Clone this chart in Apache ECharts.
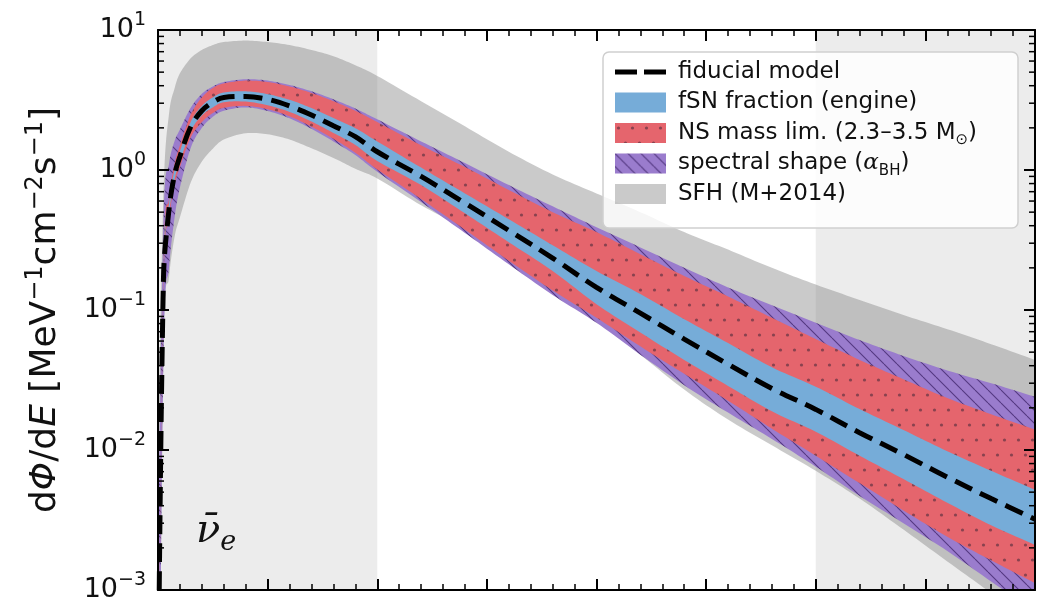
<!DOCTYPE html>
<html>
<head>
<meta charset="utf-8">
<script src="https://cdn.jsdelivr.net/npm/echarts@6/dist/echarts.min.js"></script>
<style>
  html, body { margin: 0; padding: 0; background: #ffffff; }
  #chart { width: 1037px; height: 605px; }
</style>
</head>
<body>
<div id="chart"></div>
<script>
// Neutrino energy grid (MeV)
const energy = [0, 0.25, 0.5, 0.75, 1, 1.5, 2, 2.5, 3, 4, 5, 6, 7, 8, 9, 10, 12, 14, 16, 18, 20, 22, 24, 26, 28, 30, 32, 34, 36, 38, 40];

// Fiducial DSNB flux dPhi/dE  [MeV^-1 cm^-2 s^-1]
const fiducial = [1e-4, 0.17, 0.52, 0.92, 1.25, 2.05, 2.65, 3.05, 3.3, 3.35, 3.2, 2.87, 2.47, 2.07, 1.73, 1.35, 0.9, 0.58, 0.37, 0.235, 0.145, 0.095, 0.062, 0.041, 0.0275, 0.0195, 0.0133, 0.0093, 0.0064, 0.0045, 0.0032];

// Uncertainty bands: lower / upper envelopes
const fsnLow  = [0.9e-4, 0.155, 0.48, 0.85, 1.15, 1.9, 2.45, 2.8, 3.05, 3.08, 2.9, 2.6, 2.22, 1.84, 1.51, 1.16, 0.78, 0.49, 0.305, 0.19, 0.11, 0.069, 0.044, 0.0287, 0.0189, 0.0135, 0.0091, 0.0062, 0.0042, 0.0029, 0.0021];
const fsnHigh = [1.1e-4, 0.19, 0.57, 1.0, 1.36, 2.22, 2.87, 3.3, 3.58, 3.65, 3.48, 3.17, 2.77, 2.35, 1.99, 1.6, 1.04, 0.68, 0.445, 0.29, 0.19, 0.13, 0.086, 0.058, 0.039, 0.0283, 0.0196, 0.0139, 0.0098, 0.0071, 0.0052];

const nsLow  = [0.8e-4, 0.14, 0.44, 0.78, 1.05, 1.72, 2.2, 2.55, 2.78, 2.87, 2.72, 2.42, 2.04, 1.67, 1.33, 1.01, 0.62, 0.375, 0.225, 0.138, 0.088, 0.055, 0.035, 0.0225, 0.0142, 0.0091, 0.0058, 0.0037, 0.0024, 0.00163, 0.00112];
const nsHigh = [1.2e-4, 0.21, 0.62, 1.1, 1.5, 2.5, 3.3, 3.85, 4.15, 4.35, 4.25, 3.95, 3.55, 3.1, 2.65, 2.2, 1.5, 1.05, 0.72, 0.5, 0.36, 0.25, 0.175, 0.125, 0.088, 0.062, 0.044, 0.032, 0.0235, 0.018, 0.014];

const shapeLow  = [1e-5, 0.05, 0.2, 0.45, 0.75, 1.45, 2.0, 2.4, 2.65, 2.8, 2.64, 2.34, 1.97, 1.6, 1.28, 0.97, 0.59, 0.355, 0.212, 0.128, 0.081, 0.048, 0.029, 0.0185, 0.012, 0.0076, 0.0047, 0.003, 0.0019, 0.00115, 0.0007];
const shapeHigh = [0.002, 0.45, 1.1, 1.6, 1.95, 2.8, 3.5, 3.95, 4.25, 4.45, 4.35, 4.05, 3.65, 3.2, 2.75, 2.3, 1.6, 1.12, 0.78, 0.55, 0.39, 0.28, 0.2, 0.145, 0.108, 0.081, 0.061, 0.047, 0.037, 0.03, 0.024];

const sfhLow  = [1e-5, 0.05, 0.17, 0.33, 0.46, 0.82, 1.15, 1.42, 1.65, 1.83, 1.8, 1.65, 1.43, 1.22, 1.02, 0.87, 0.56, 0.38, 0.24, 0.145, 0.085, 0.048, 0.027, 0.0165, 0.0108, 0.0071, 0.0045, 0.0027, 0.0016, 0.00095, 0.00055];
const sfhHigh = [0.01, 0.7, 2.5, 3.8, 4.9, 6.3, 7.2, 7.8, 8.2, 8.4, 8.2, 7.8, 7.2, 6.5, 5.6, 4.7, 3.1, 2.05, 1.35, 0.93, 0.68, 0.5, 0.36, 0.27, 0.2, 0.152, 0.118, 0.092, 0.073, 0.057, 0.044];

// Background-dominated energy windows (shaded)
const shadedRanges = [[0, 10], [30, 40]];

// Axis settings
const xRange = [0, 40];
const yRange = [1e-3, 10];
const yMinorTicks = [2e-3, 3e-3, 4e-3, 5e-3, 6e-3, 7e-3, 8e-3, 9e-3,
                     2e-2, 3e-2, 4e-2, 5e-2, 6e-2, 7e-2, 8e-2, 9e-2,
                     2e-1, 3e-1, 4e-1, 5e-1, 6e-1, 7e-1, 8e-1, 9e-1,
                     2, 3, 4, 5, 6, 7, 8, 9];

const names = {
  fid: 'fiducial model',
  fsn: 'fSN fraction (engine)',
  ns: 'NS mass lim. (2.3–3.5 M⊙)',
  shape: 'spectral shape (αBH)',
  sfh: 'SFH (M+2014)'
};

const FONT = 'DejaVu Sans';

// Fill patterns: dotted red and hatched purple
function makeTile(w, h, draw) {
  const c = document.createElement('canvas');
  c.width = w; c.height = h;
  draw(c.getContext('2d'), w, h);
  return { image: c, repeat: 'repeat' };
}
const redFill = makeTile(14, 30, (g, w, h) => {
  g.fillStyle = '#e5656d'; g.fillRect(0, 0, w, h);
  g.fillStyle = 'rgba(105,55,70,0.75)';
  [[3.5, 5], [10.5, 20]].forEach(p => { g.beginPath(); g.arc(p[0], p[1], 1.6, 0, Math.PI * 2); g.fill(); });
});
const purpleFill = makeTile(13, 13, (g, w, h) => {
  g.fillStyle = '#9a7ccd'; g.fillRect(0, 0, w, h);
  g.strokeStyle = 'rgba(70,45,115,0.85)'; g.lineWidth = 1.1;
  for (let k = -1; k <= 1; k++) { g.beginPath(); g.moveTo(k * w, 0); g.lineTo(k * w + w, h); g.stroke(); }
});
const blueFill = '#76acd8';
const grayFill = 'rgba(128,128,128,0.42)';

// Catmull-Rom curve through pixel points, sampled into a polyline
function curve(pts) {
  const out = [pts[0]];
  for (let i = 0; i < pts.length - 1; i++) {
    const p0 = pts[Math.max(i - 1, 0)], p1 = pts[i], p2 = pts[i + 1], p3 = pts[Math.min(i + 2, pts.length - 1)];
    const c1 = [p1[0] + (p2[0] - p0[0]) / 6, p1[1] + (p2[1] - p0[1]) / 6];
    const c2 = [p2[0] - (p3[0] - p1[0]) / 6, p2[1] - (p3[1] - p1[1]) / 6];
    for (let s = 1; s <= 10; s++) {
      const t = s / 10, u = 1 - t;
      out.push([
        u * u * u * p1[0] + 3 * u * u * t * c1[0] + 3 * u * t * t * c2[0] + t * t * t * p2[0],
        u * u * u * p1[1] + 3 * u * u * t * c1[1] + 3 * u * t * t * c2[1] + t * t * t * p2[1]
      ]);
    }
  }
  return out;
}

function bandSeries(name, low, high, fill, z) {
  return {
    name: name,
    type: 'custom',
    z: z,
    clip: true,
    itemStyle: { color: fill },
    data: energy.map((e, i) => [e, low[i], high[i]]),
    renderItem: function (params, api) {
      if (params.dataIndex !== 0) return null;
      const upper = energy.map((e, i) => api.coord([e, high[i]]));
      const lower = energy.map((e, i) => api.coord([e, low[i]])).reverse();
      const pts = curve(upper).concat(curve(lower));
      const cs = params.coordSys;
      return {
        type: 'group',
        clipPath: { type: 'rect', shape: { x: cs.x, y: cs.y, width: cs.width, height: cs.height } },
        children: [{ type: 'polygon', shape: { points: pts }, style: { fill: fill, stroke: null } }]
      };
    }
  };
}

const chart = echarts.init(document.getElementById('chart'), null, { renderer: 'canvas' });

const axisLine = { show: true, onZero: false, lineStyle: { color: '#000', width: 2 } };
const hiddenLabel = { show: false };

// Two short dashes for the fiducial-model legend key
const dashIcon = 'path://M0,0H22V5H0Z M29,0H51V5H29Z';

function legendItem(name, icon, center) {
  return {
    z: 20,
    data: [{ name: name, icon: icon }],
    left: 615,
    top: center - 15,
    padding: 0,
    itemWidth: 51,
    itemHeight: 20,
    selectedMode: false,
    formatter: function (n) {
      if (n === names.ns) return 'NS mass lim. (2.3–3.5 M{sub|⊙})';
      if (n === names.shape) return 'spectral shape ({it|α}{sub|BH})';
      return n;
    },
    textStyle: {
      fontFamily: FONT, fontSize: 23, color: '#111', lineHeight: 30, padding: [0, 0, 0, 7],
      rich: {
        sub: { fontFamily: FONT, fontSize: 15, lineHeight: 16, verticalAlign: 'bottom', color: '#111' },
        it: { fontFamily: 'DejaVu Serif', fontStyle: 'italic', fontSize: 23, lineHeight: 30, color: '#111' }
      }
    }
  };
}

const option = {
  animation: false,
  backgroundColor: '#ffffff',
  grid: { left: 158, right: 2, top: 30, bottom: 15, containLabel: false },
  xAxis: [
    {
      type: 'value', min: xRange[0], max: xRange[1], interval: 5, z: 10,
      axisLine: axisLine,
      axisTick: { show: true, inside: true, length: 11, lineStyle: { color: '#000', width: 2 } },
      minorTick: { show: true, splitNumber: 5, length: 6, lineStyle: { color: '#000', width: 1.5 } },
      axisLabel: hiddenLabel, splitLine: { show: false }
    },
    {
      type: 'value', position: 'top', min: xRange[0], max: xRange[1], interval: 5, z: 10,
      axisLine: axisLine,
      axisTick: { show: true, inside: true, length: 11, lineStyle: { color: '#000', width: 2 } },
      minorTick: { show: true, splitNumber: 5, length: 6, lineStyle: { color: '#000', width: 1.5 } },
      axisLabel: hiddenLabel, splitLine: { show: false }
    }
  ],
  yAxis: [
    {
      type: 'log', logBase: 10, min: yRange[0], max: yRange[1], z: 10,
      axisLine: axisLine,
      axisTick: { show: true, inside: true, length: 11, lineStyle: { color: '#000', width: 2 } },
      splitLine: { show: false },
      name: 'd{i|Φ}/d{i|E} [MeV{s|−1}cm{s|−2}s{s|−1}]',
      nameLocation: 'middle',
      nameGap: 90,
      nameTextStyle: {
        fontFamily: FONT, fontSize: 36, color: '#111', lineHeight: 44,
        rich: {
          i: { fontFamily: FONT, fontStyle: 'italic', fontSize: 36, lineHeight: 44, color: '#111' },
          s: { fontFamily: FONT, fontSize: 24, lineHeight: 24, verticalAlign: 'top', color: '#111' }
        }
      },
      axisLabel: {
        margin: 12,
        color: '#111',
        formatter: function (v) {
          const e = Math.round(Math.log10(v));
          return '{b|10}{s|' + (e < 0 ? '−' + (-e) : e) + '}';
        },
        rich: {
          b: { fontFamily: FONT, fontSize: 27, lineHeight: 38, color: '#111' },
          s: { fontFamily: FONT, fontSize: 19, lineHeight: 20, verticalAlign: 'top', color: '#111' }
        }
      }
    },
    {
      type: 'log', logBase: 10, min: yRange[0], max: yRange[1], position: 'right', z: 10,
      axisLine: axisLine,
      axisTick: { show: true, inside: true, length: 11, lineStyle: { color: '#000', width: 2 } },
      axisLabel: hiddenLabel, splitLine: { show: false }
    }
  ],
  legend: [
    legendItem(names.fid, dashIcon, 72),
    legendItem(names.fsn, 'rect', 102.5),
    legendItem(names.ns, 'rect', 133),
    legendItem(names.shape, 'rect', 163.5),
    legendItem(names.sfh, 'rect', 194)
  ],
  graphic: [
    {
      type: 'rect', z: 12, silent: true,
      shape: { x: 603, y: 52, width: 415, height: 176, r: 6 },
      style: { fill: 'rgba(255,255,255,0.82)', stroke: '#cfcfcf', lineWidth: 1.5 }
    },
    {
      type: 'text', z: 60, left: 196, top: 512, silent: true,
      style: {
        text: '{n|ν̄}{e|e}',
        rich: {
          n: { fontFamily: 'DejaVu Serif', fontStyle: 'italic', fontSize: 40, lineHeight: 48, fill: '#111' },
          e: { fontFamily: 'DejaVu Serif', fontStyle: 'italic', fontSize: 27, lineHeight: 30, verticalAlign: 'bottom', fill: '#111' }
        }
      }
    }
  ],
  series: [
    {
      type: 'line', z: 1, data: [], silent: true,
      markArea: {
        silent: true,
        itemStyle: { color: '#ececec' },
        data: shadedRanges.map(r => [{ xAxis: r[0] }, { xAxis: r[1] }])
      }
    },
    bandSeries(names.sfh, sfhLow, sfhHigh, grayFill, 2),
    bandSeries(names.shape, shapeLow, shapeHigh, purpleFill, 3),
    bandSeries(names.ns, nsLow, nsHigh, redFill, 4),
    bandSeries(names.fsn, fsnLow, fsnHigh, blueFill, 5),
    {
      name: names.fid,
      type: 'line', z: 6,
      data: energy.map((e, i) => [e, fiducial[i]]),
      smooth: 0.35,
      symbol: 'none',
      clip: true,
      lineStyle: { color: '#000', width: 5, type: [19, 9] },
      itemStyle: { color: '#000' }
    },
    {
      type: 'custom', z: 11, silent: true,
      data: yMinorTicks.map(v => [xRange[0], v]),
      renderItem: function (params, api) {
        const v = api.value(1);
        const l = api.coord([xRange[0], v]);
        const r = api.coord([xRange[1], v]);
        const st = { stroke: '#000', lineWidth: 1.5 };
        return {
          type: 'group',
          children: [
            { type: 'line', shape: { x1: l[0], y1: l[1], x2: l[0] + 6, y2: l[1] }, style: st },
            { type: 'line', shape: { x1: r[0] - 6, y1: r[1], x2: r[0], y2: r[1] }, style: st }
          ]
        };
      }
    }
  ]
};

chart.setOption(option);
</script>
</body>
</html>
